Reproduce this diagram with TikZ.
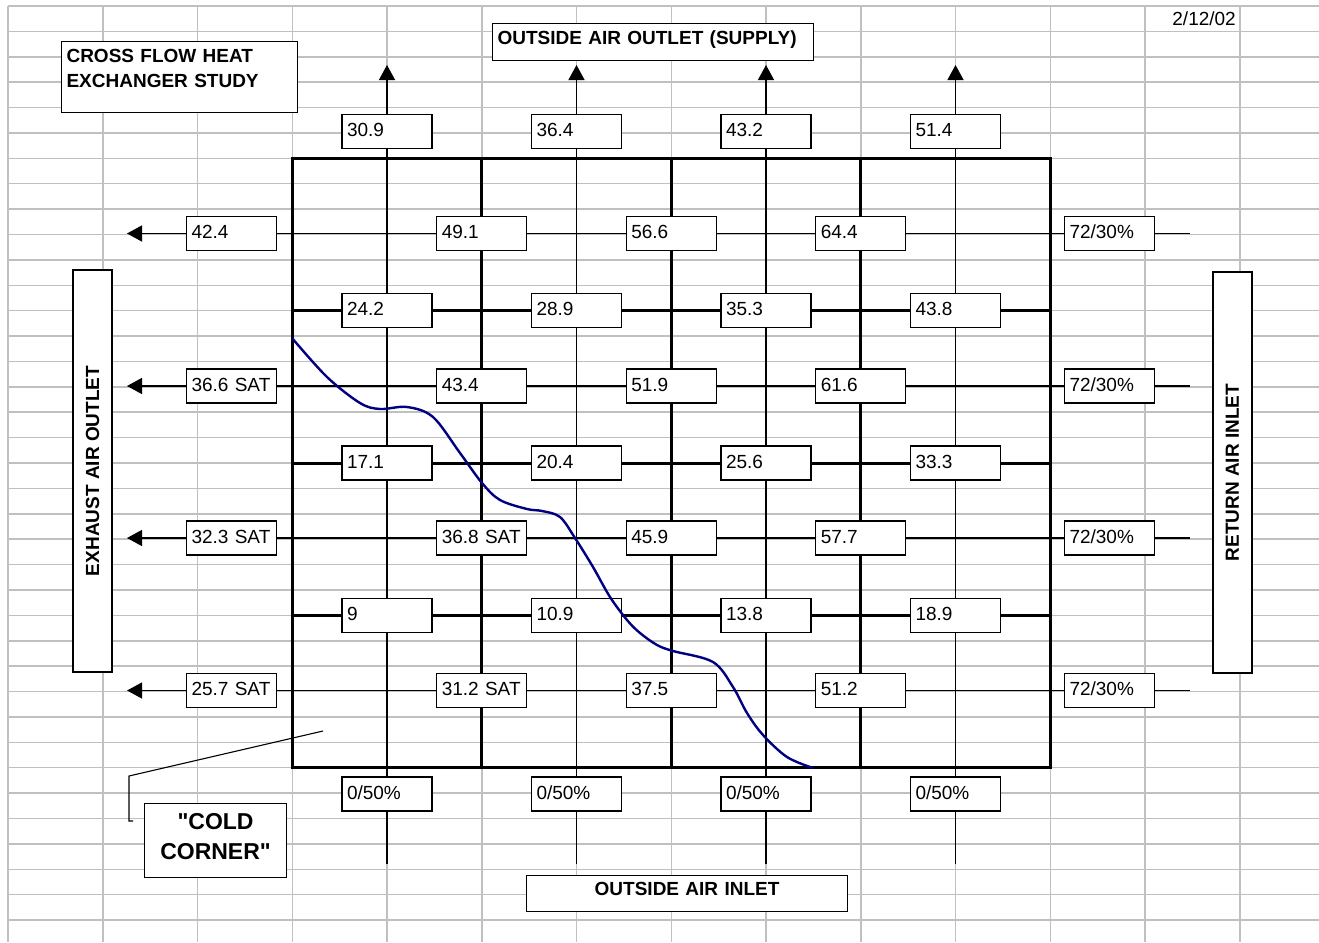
\documentclass[tikz,border=0pt]{standalone}
\usepackage{fontspec}
\setmainfont{Liberation Sans}[Ligatures=TeXOff]
\usetikzlibrary{arrows.meta}
\definecolor{gridgray}{RGB}{192,192,192}
\definecolor{curveblue}{RGB}{0,0,128}
\begin{document}
\begin{tikzpicture}[x=1pt,y=-1pt,
  gridline/.style={draw=gridgray, line width=1.5pt},
  hxline/.style={draw=black, line width=3pt},
  flowline/.style={draw=black, line width=1.3pt},
  flowarrow/.style={flowline, -{Triangle[length=15pt,width=16pt]}},
  valbox/.style={draw=black, fill=white, line width=1.1pt, text width=80pt, inner xsep=5pt, inner ysep=0pt, minimum height=34pt, text height=13pt, text depth=2.5pt, align=left, font=\fontsize{19}{22}\selectfont},
  labelbox/.style={draw=black, fill=white, line width=1.1pt, font=\bfseries\fontsize{19}{25}\selectfont},
  callout/.style={draw=black, line width=1.1pt},
  coldcurve/.style={draw=curveblue, line width=2.4pt}
]
\useasboundingbox (0,0) rectangle (1319,942);
\fill[white] (0,0) rectangle (1319,942);
% spreadsheet grid
\foreach \k in {0,...,36} \draw[gridline] (8,{6+25.39*\k}) -- (1319,{6+25.39*\k});
\foreach \k in {0,...,13} \draw[gridline] ({8+94.75*\k},6) -- ({8+94.75*\k},942);
% heat exchanger core
\draw[hxline] (292.25,158.3) rectangle (1050.25,767.7);
\foreach \x in {481.75,671.25,860.75} \draw[hxline] (\x,158.3) -- (\x,767.7);
\foreach \y in {310.7,463,615.4} \draw[hxline] (292.25,\y) -- (1050.25,\y);
% flow lines
\foreach \i/\x in {1/387,2/576.5,3/766,4/955.5} {
  \coordinate (oain\i) at (\x,864);
  \coordinate (oaout\i) at (\x,65);
  \draw[flowarrow] (oain\i) -- (oaout\i);
}
\foreach \j/\y in {1/233.5,2/386,3/538,4/690.5} {
  \coordinate (rain\j) at (1190,\y);
  \coordinate (eaout\j) at (127,\y);
  \draw[flowarrow] (rain\j) -- (eaout\j);
}
% value boxes
\node[valbox] (t1) at (387,131.5) {30.9};
\node[valbox] (t2) at (576.5,131.5) {36.4};
\node[valbox] (t3) at (766,131.5) {43.2};
\node[valbox] (t4) at (955.5,131.5) {51.4};

\node[valbox] (a0) at (231.5,233.5) {42.4};
\node[valbox] (a1) at (481.75,233.5) {49.1};
\node[valbox] (a2) at (671.25,233.5) {56.6};
\node[valbox] (a3) at (860.75,233.5) {64.4};
\node[valbox] (a4) at (1109.5,233.5) {72/30\%};

\node[valbox] (b1) at (387,310.7) {24.2};
\node[valbox] (b2) at (576.5,310.7) {28.9};
\node[valbox] (b3) at (766,310.7) {35.3};
\node[valbox] (b4) at (955.5,310.7) {43.8};

\node[valbox] (c0) at (231.5,386) {36.6 SAT};
\node[valbox] (c1) at (481.75,386) {43.4};
\node[valbox] (c2) at (671.25,386) {51.9};
\node[valbox] (c3) at (860.75,386) {61.6};
\node[valbox] (c4) at (1109.5,386) {72/30\%};

\node[valbox] (d1) at (387,463) {17.1};
\node[valbox] (d2) at (576.5,463) {20.4};
\node[valbox] (d3) at (766,463) {25.6};
\node[valbox] (d4) at (955.5,463) {33.3};

\node[valbox] (e0) at (231.5,538) {32.3 SAT};
\node[valbox] (e1) at (481.75,538) {36.8 SAT};
\node[valbox] (e2) at (671.25,538) {45.9};
\node[valbox] (e3) at (860.75,538) {57.7};
\node[valbox] (e4) at (1109.5,538) {72/30\%};

\node[valbox] (f1) at (387,615.4) {9};
\node[valbox] (f2) at (576.5,615.4) {10.9};
\node[valbox] (f3) at (766,615.4) {13.8};
\node[valbox] (f4) at (955.5,615.4) {18.9};

\node[valbox] (g0) at (231.5,690.5) {25.7 SAT};
\node[valbox] (g1) at (481.75,690.5) {31.2 SAT};
\node[valbox] (g2) at (671.25,690.5) {37.5};
\node[valbox] (g3) at (860.75,690.5) {51.2};
\node[valbox] (g4) at (1109.5,690.5) {72/30\%};

\node[valbox] (h1) at (387,794) {0/50\%};
\node[valbox] (h2) at (576.5,794) {0/50\%};
\node[valbox] (h3) at (766,794) {0/50\%};
\node[valbox] (h4) at (955.5,794) {0/50\%};
% labels
\node[labelbox, anchor=north west, text width=226pt, inner xsep=5pt, inner ysep=7pt, text height=14pt, text depth=43pt, align=left] (title) at (61,41) {CROSS FLOW HEAT\\EXCHANGER STUDY};
\node[labelbox, anchor=north west, text width=311pt, inner xsep=5pt, inner ysep=7pt, text height=14pt, text depth=9pt, align=left] (supply) at (492,23) {OUTSIDE AIR OUTLET (SUPPLY)};
\node[labelbox, anchor=north west, text width=311pt, inner xsep=5pt, inner ysep=6pt, text height=14pt, text depth=10pt, align=center] (inlet) at (526,875) {OUTSIDE AIR INLET};
\node[labelbox, anchor=north west, text width=132pt, inner xsep=5pt, inner ysep=9.5pt, text height=16.5pt, text depth=38.5pt, align=center, font=\bfseries\fontsize{23}{30}\selectfont] (cold) at (144,803) {"COLD\\CORNER"};
\node[labelbox, rotate=90, minimum width=402pt, minimum height=39pt, inner sep=0pt] (exhaust) at (92.5,471) {EXHAUST AIR OUTLET};
\node[labelbox, rotate=90, minimum width=401pt, minimum height=39pt, inner sep=0pt] (return) at (1232.5,472.5) {RETURN AIR INLET};
\node[anchor=base east, inner sep=0pt, font=\fontsize{19}{22}\selectfont] (date) at (1236,26) {2/12/02};
% cold corner boundary curve
\draw[coldcurve] plot[smooth, tension=0.55] coordinates {(292,338) (327,377) (360,403) (380,409) (407,407) (433,417) (460,453) (482,483) (500,500) (527,509) (542,511) (560,517) (575,538) (593,567) (610,597) (627,620) (640,633) (657,645) (673,651) (713,662) (733,687) (747,713) (763,735) (787,757) (813,768)};
% callout
\coordinate (ccpt) at (323,731);
\coordinate (ccbend) at (129,776);
\coordinate (ccend) at (129,821);
\coordinate (cctick) at (133,821);
\draw[callout] (ccpt) -- (ccbend) -- (ccend) -- (cctick);
\end{tikzpicture}
\end{document}
